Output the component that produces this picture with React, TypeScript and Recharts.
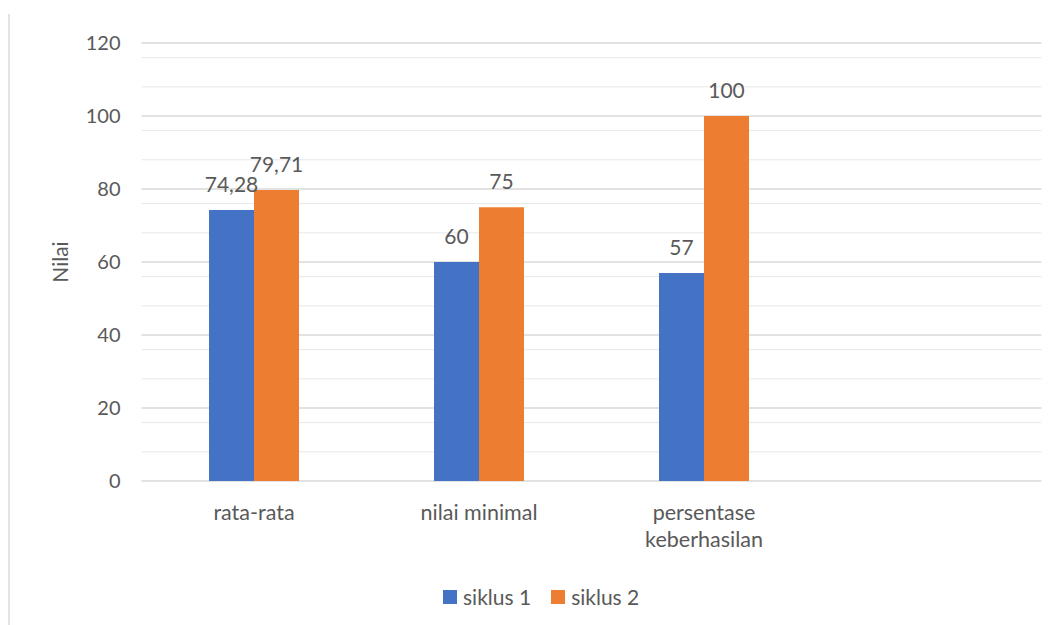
import React from "react";
import { Bar, BarChart, CartesianGrid, Label, LabelList, Legend, XAxis, YAxis } from "recharts";

const categories = ["rata-rata", "nilai minimal", "persentase keberhasilan", ""];
const siklus1 = [74.28, 60, 57, null];
const siklus2 = [79.71, 75, 100, null];
const yTicks = [0, 20, 40, 60, 80, 100, 120];
const minorTicks = [4, 8, 12, 16, 24, 28, 32, 36, 44, 48, 52, 56, 64, 68, 72, 76, 84, 88, 92, 96, 104, 108, 112, 116];

const FONT = "Lato, 'Noto Sans', sans-serif";
const TEXT = "#595959";
const BLUE = "#4472C4";
const ORANGE = "#ED7D31";

const data = categories.map((name, i) => ({
  name,
  s1: siklus1[i],
  s2: siklus2[i],
}));

const fmt = (v) => (v === null || v === undefined ? "" : String(v).replace(".", ","));

// long category names wrap onto two lines like the original
function CategoryTick(props) {
  const { x, y, payload } = props;
  const label = String(payload.value || "");
  const lines = label.length > 15 ? label.split(" ") : [label];
  return (
    <text x={x} y={y} textAnchor="middle" fill={TEXT} fontSize={21.5} fontFamily={FONT}>
      {lines.map((line, i) => (
        <tspan key={i} x={x} dy={i === 0 ? 15 : 27}>
          {line}
        </tspan>
      ))}
    </text>
  );
}

function LegendBox(props) {
  const { payload } = props;
  return (
    <div style={{ display: "flex", alignItems: "center", fontFamily: FONT, fontSize: 21, color: TEXT }}>
      {payload.map((item) => (
        <div key={item.value} style={{ display: "flex", alignItems: "center", marginRight: 20 }}>
          <span style={{ width: 14, height: 14, background: item.color, display: "inline-block", marginRight: 6 }} />
          <span>{item.value}</span>
        </div>
      ))}
    </div>
  );
}

export default function App() {
  return (
    <div style={{ position: "absolute", left: 0, top: 0, width: 1054, height: 625, background: "#fff" }}>
      <div style={{ position: "absolute", left: 8, top: 14, width: 2, height: 611, background: "#e3e3e3" }} />
      <BarChart
        width={1054}
        height={625}
        data={data}
        margin={{ top: 43, right: 12.5, left: 0, bottom: 0 }}
        barCategoryGap="30%"
        barGap={0}
      >
        <CartesianGrid vertical={false} horizontalValues={minorTicks} stroke="#e8e8e8" strokeWidth={1} />
        <CartesianGrid vertical={false} horizontalValues={yTicks} stroke="#d9d9d9" strokeWidth={1.5} />
        <XAxis
          dataKey="name"
          axisLine={false}
          tickLine={false}
          height={144}
          tickMargin={18}
          interval={0}
          tick={<CategoryTick />}
        />
        <YAxis
          width={141.5}
          domain={[0, 120]}
          ticks={yTicks}
          axisLine={false}
          tickLine={false}
          tickMargin={15}
          tick={{ fill: TEXT, fontSize: 20, fontFamily: FONT }}
        >
          <Label value="Nilai" angle={-90} position="center" dx={-10} fill={TEXT} fontSize={21} fontFamily={FONT} />
        </YAxis>
        <Legend
          verticalAlign="middle"
          content={<LegendBox />}
          wrapperStyle={{ top: 584, left: 443, width: 300 }}
        />
        <Bar dataKey="s1" name="siklus 1" fill={BLUE} isAnimationActive={false}>
          <LabelList dataKey="s1" position="top" offset={18} formatter={fmt} fill={TEXT} fontSize={21} fontFamily={FONT} />
        </Bar>
        <Bar dataKey="s2" name="siklus 2" fill={ORANGE} isAnimationActive={false}>
          <LabelList dataKey="s2" position="top" offset={18} formatter={fmt} fill={TEXT} fontSize={21} fontFamily={FONT} />
        </Bar>
      </BarChart>
    </div>
  );
}
